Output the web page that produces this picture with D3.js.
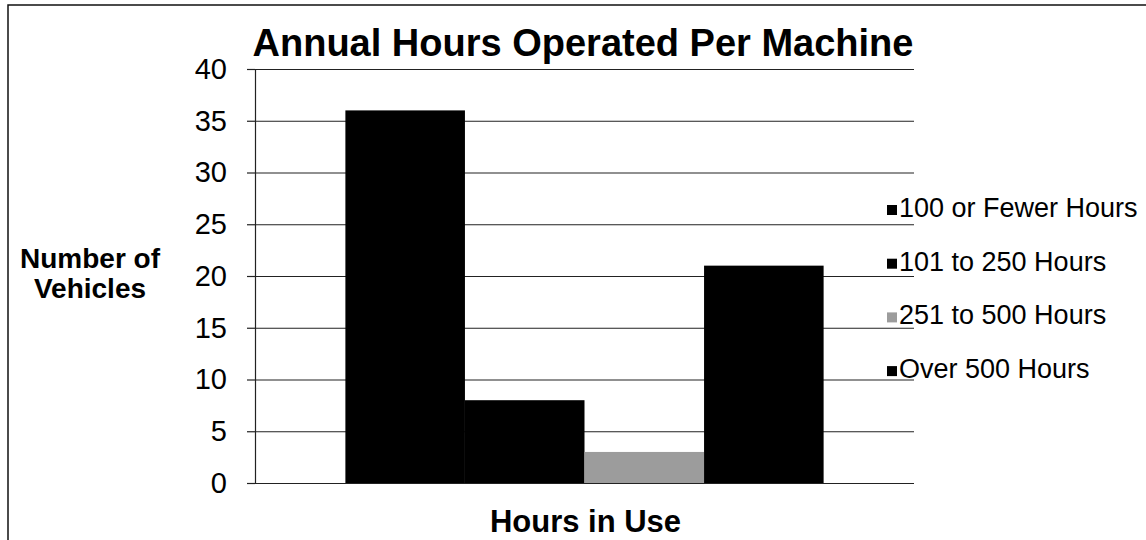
<!DOCTYPE html>
<head>
    <title>Annual Hours Operated Per Machine</title>
    <script src="https://d3js.org/d3.v7.min.js"></script>
</head>
<style>
body {
  margin: 0;
  overflow: hidden;
  background: #fff;
  font-family: Arial, "Liberation Sans", Helvetica, sans-serif;
}
svg { display: block; }
</style>
<body>
    <svg></svg>
</body>

<script>

    // Data
    var categories = ["Hours in Use"];
    var seriesNames = ["100 or Fewer Hours", "101 to 250 Hours", "251 to 500 Hours", "Over 500 Hours"];
    var seriesValues = [36, 8, 3, 21];
    var seriesColors = ["#000000", "#000000", "#9c9c9c", "#000000"];
    var yTicks = [0, 5, 10, 15, 20, 25, 30, 35, 40];

    // Variables
    var width = 1146;
    var height = 540;
    var plot = {left: 255, right: 914, top: 69, bottom: 483};

    var svg = d3.select('svg')
        .attr('width', width)
        .attr('height', height);

    // outer frame: only the top and left edges are in the picture
    svg.append('path')
        .attr('d', 'M8,' + height + 'V5H' + width)
        .attr('fill', 'none')
        .attr('stroke', '#111')
        .attr('stroke-width', 1.5);

    var y = d3.scaleLinear()
        .domain([0, 40])
        .range([plot.bottom, plot.top]);

    var x0 = d3.scaleBand()
        .domain(categories)
        .range([plot.left, plot.right])
        .paddingInner(0)
        .paddingOuter(0.189);

    var x1 = d3.scaleBand()
        .domain(seriesNames)
        .range([0, x0.bandwidth()])
        .padding(0);

    // gridlines
    svg.append('g')
        .attr('class', 'grid')
        .attr('transform', 'translate(' + plot.left + ',0)')
        .call(d3.axisRight(y).tickValues(yTicks).tickSize(plot.right - plot.left).tickFormat(''))
        .call(function (g) { g.select('.domain').remove(); })
        .selectAll('line')
        .attr('stroke', '#222')
        .attr('stroke-width', 1.2);

    // bars
    svg.append('g')
        .selectAll('rect')
        .data(seriesValues)
        .enter().append('rect')
        .attr('x', function (d, i) { return x0(categories[0]) + x1(seriesNames[i]); })
        .attr('y', function (d) { return y(d); })
        .attr('width', x1.bandwidth())
        .attr('height', function (d) { return y(0) - y(d); })
        .attr('fill', function (d, i) { return seriesColors[i]; });

    // y axis
    var yAxis = svg.append('g')
        .attr('transform', 'translate(' + plot.left + ',0)')
        .call(d3.axisLeft(y).tickValues(yTicks).tickSize(8).tickSizeOuter(0).tickPadding(20));
    yAxis.select('.domain').attr('stroke', '#222').attr('stroke-width', 1.2);
    yAxis.selectAll('line').attr('stroke', '#222').attr('stroke-width', 1.2);
    yAxis.selectAll('text')
        .style('font-family', 'Arial, "Liberation Sans", sans-serif')
        .style('font-size', '29px')
        .attr('fill', '#000');

    // title
    svg.append('text')
        .attr('x', 583).attr('y', 56)
        .attr('text-anchor', 'middle')
        .style('font-size', '38px')
        .style('font-weight', 'bold')
        .text('Annual Hours Operated Per Machine');

    // axis titles
    var yTitle = svg.append('text')
        .attr('text-anchor', 'middle')
        .style('font-size', '28px')
        .style('font-weight', 'bold');
    yTitle.append('tspan').attr('x', 90).attr('y', 268).text('Number of');
    yTitle.append('tspan').attr('x', 90).attr('y', 298).text('Vehicles');

    svg.append('text')
        .attr('x', (plot.left + plot.right) / 2 + 1).attr('y', 532)
        .attr('text-anchor', 'middle')
        .style('font-size', '31px')
        .style('font-weight', 'bold')
        .text(categories[0]);

    // legend
    var legend = svg.append('g')
        .selectAll('g')
        .data(seriesNames)
        .enter().append('g')
        .attr('transform', function (d, i) { return 'translate(887,' + (217 + i * 53.7) + ')'; });

    legend.append('rect')
        .attr('x', 0).attr('y', -12)
        .attr('width', 10).attr('height', 10)
        .attr('fill', function (d, i) { return seriesColors[i]; });

    legend.append('text')
        .attr('x', 12).attr('y', 0)
        .style('font-size', '27px')
        .text(function (d) { return d; });

</script>
